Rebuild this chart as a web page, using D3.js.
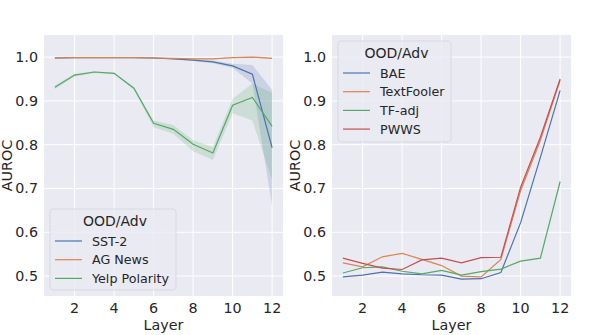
<!DOCTYPE html>
<html>
<head>
<meta charset="utf-8">
<script src="https://cdn.jsdelivr.net/npm/d3@7"></script>
<style>
  body { margin: 0; background: #fff; }
  svg text { font-family: "DejaVu Sans", sans-serif; fill: #262626; }
</style>
</head>
<body>
<svg id="chart" width="598" height="335"></svg>
<script>
// ----------------------
// data
// ----------------------
const layers = [1, 2, 3, 4, 5, 6, 7, 8, 9, 10, 11, 12];
const yTicks = [0.5, 0.6, 0.7, 0.8, 0.9, 1.0];
const xTicks = [2, 4, 6, 8, 10, 12];

// left panel: OOD sets (mean + band)
const sst2     = [0.998, 0.999, 0.999, 0.999, 0.999, 0.998, 0.996, 0.993, 0.989, 0.980, 0.961, 0.793];
const sst2Lo   = [0.997, 0.998, 0.998, 0.998, 0.998, 0.997, 0.995, 0.991, 0.986, 0.975, 0.940, 0.660];
const sst2Hi   = [0.999, 1.000, 1.000, 1.000, 1.000, 0.999, 0.997, 0.995, 0.992, 0.985, 0.982, 0.925];
const agNews   = [0.998, 0.999, 0.999, 0.999, 0.999, 0.998, 0.997, 0.996, 0.996, 0.999, 1.000, 0.997];
const agLo     = [0.997, 0.998, 0.998, 0.998, 0.998, 0.997, 0.996, 0.995, 0.995, 0.998, 0.999, 0.995];
const agHi     = [0.999, 1.000, 1.000, 1.000, 1.000, 0.999, 0.998, 0.997, 0.997, 1.000, 1.001, 0.999];
const yelp     = [0.931, 0.959, 0.966, 0.963, 0.929, 0.849, 0.835, 0.801, 0.781, 0.890, 0.908, 0.842];
const yelpLo   = [0.927, 0.956, 0.964, 0.961, 0.926, 0.840, 0.825, 0.785, 0.765, 0.872, 0.855, 0.720];
const yelpHi   = [0.935, 0.962, 0.968, 0.965, 0.932, 0.855, 0.845, 0.810, 0.795, 0.905, 0.940, 0.918];

// right panel: adversarial attacks
const bae        = [0.498, 0.502, 0.509, 0.505, 0.503, 0.502, 0.493, 0.494, 0.508, 0.622, 0.771, 0.924];
const textFooler = [0.530, 0.521, 0.544, 0.552, 0.538, 0.524, 0.500, 0.498, 0.538, 0.695, 0.810, 0.947];
const tfAdj      = [0.507, 0.519, 0.521, 0.511, 0.505, 0.513, 0.502, 0.510, 0.516, 0.534, 0.541, 0.716];
const pwws       = [0.541, 0.529, 0.518, 0.515, 0.537, 0.541, 0.530, 0.542, 0.543, 0.703, 0.817, 0.950];

const colors = ["#4C72B0", "#DD8452", "#55A868", "#C44E52"];

const leftSeries = [
    { name: "SST-2", mean: sst2, lo: sst2Lo, hi: sst2Hi, color: colors[0] },
    { name: "AG News", mean: agNews, lo: agLo, hi: agHi, color: colors[1] },
    { name: "Yelp Polarity", mean: yelp, lo: yelpLo, hi: yelpHi, color: colors[2] }
];
const rightSeries = [
    { name: "BAE", mean: bae, color: colors[0] },
    { name: "TextFooler", mean: textFooler, color: colors[1] },
    { name: "TF-adj", mean: tfAdj, color: colors[2] },
    { name: "PWWS", mean: pwws, color: colors[3] }
];

// ----------------------
// layout
// ----------------------
const svg = d3.select("#chart");
const panelTop = 35, panelBottom = 296;
const panels = [
    { left: 44, right: 283, series: leftSeries, legend: { x: 50, y: 209, w: 126, h: 81 } },
    { left: 332, right: 571, series: rightSeries, legend: { x: 338, y: 41, w: 113, h: 101 } }
];

panels.forEach(p => {
    const x = d3.scaleLinear().domain([0.45, 12.55]).range([p.left, p.right]);
    const y = d3.scaleLinear().domain([0.4545, 1.0505]).range([panelBottom, panelTop]);
    const g = svg.append("g");

    g.append("rect")
        .attr("x", p.left).attr("y", panelTop)
        .attr("width", p.right - p.left).attr("height", panelBottom - panelTop)
        .attr("fill", "#EAEAF2");

    // grid
    g.selectAll(".vgrid").data(xTicks).enter().append("line")
        .attr("x1", d => x(d)).attr("x2", d => x(d))
        .attr("y1", panelTop).attr("y2", panelBottom)
        .attr("stroke", "#fff").attr("stroke-width", 1);
    g.selectAll(".hgrid").data(yTicks).enter().append("line")
        .attr("x1", p.left).attr("x2", p.right)
        .attr("y1", d => y(d)).attr("y2", d => y(d))
        .attr("stroke", "#fff").attr("stroke-width", 1);

    // tick labels
    g.selectAll(".xt").data(xTicks).enter().append("text")
        .attr("x", d => x(d)).attr("y", 313)
        .attr("text-anchor", "middle").attr("font-size", 14.3)
        .text(d => d);
    g.selectAll(".yt").data(yTicks).enter().append("text")
        .attr("x", p.left - 6).attr("y", d => y(d) + 5)
        .attr("text-anchor", "end").attr("font-size", 14.3)
        .text(d => d.toFixed(1));

    g.append("text")
        .attr("x", (p.left + p.right) / 2).attr("y", 330)
        .attr("text-anchor", "middle").attr("font-size", 14.3)
        .text("Layer");
    g.append("text")
        .attr("transform", `translate(${p.left - 32},${(panelTop + panelBottom) / 2}) rotate(-90)`)
        .attr("text-anchor", "middle").attr("font-size", 14.3)
        .text("AUROC");

    const area = d3.area()
        .x((d, i) => x(layers[i]))
        .y0(d => y(d[0])).y1(d => y(d[1]));
    const line = d3.line()
        .x((d, i) => x(layers[i]))
        .y(d => y(d));

    const clip = "clip" + p.left;
    g.append("clipPath").attr("id", clip).append("rect")
        .attr("x", p.left).attr("y", panelTop)
        .attr("width", p.right - p.left).attr("height", panelBottom - panelTop);

    const plot = g.append("g").attr("clip-path", `url(#${clip})`);
    p.series.forEach(s => {
        if (s.lo) {
            plot.append("path")
                .datum(s.lo.map((v, i) => [v, s.hi[i]]))
                .attr("d", area)
                .attr("fill", s.color).attr("fill-opacity", 0.2);
        }
    });
    p.series.forEach(s => {
        plot.append("path")
            .datum(s.mean)
            .attr("d", line)
            .attr("fill", "none")
            .attr("stroke", s.color).attr("stroke-width", 1.2);
    });

    // legend
    const L = p.legend;
    const lg = g.append("g");
    lg.append("rect")
        .attr("x", L.x).attr("y", L.y).attr("width", L.w).attr("height", L.h)
        .attr("rx", 3)
        .attr("fill", "#EAEAF2").attr("fill-opacity", 0.8)
        .attr("stroke", "#d4d4dc").attr("stroke-width", 0.8);
    lg.append("text")
        .attr("x", L.x + L.w / 2 + 2).attr("y", L.y + 17)
        .attr("text-anchor", "middle").attr("font-size", 14)
        .text("OOD/Adv");
    p.series.forEach((s, i) => {
        const cy = L.y + 32 + i * 18.7;
        lg.append("line")
            .attr("x1", L.x + 5).attr("x2", L.x + 32)
            .attr("y1", cy).attr("y2", cy)
            .attr("stroke", s.color).attr("stroke-width", 1.2);
        lg.append("text")
            .attr("x", L.x + 42).attr("y", cy + 4.5)
            .attr("font-size", 12.7)
            .text(s.name);
    });
});
</script>
</body>
</html>
